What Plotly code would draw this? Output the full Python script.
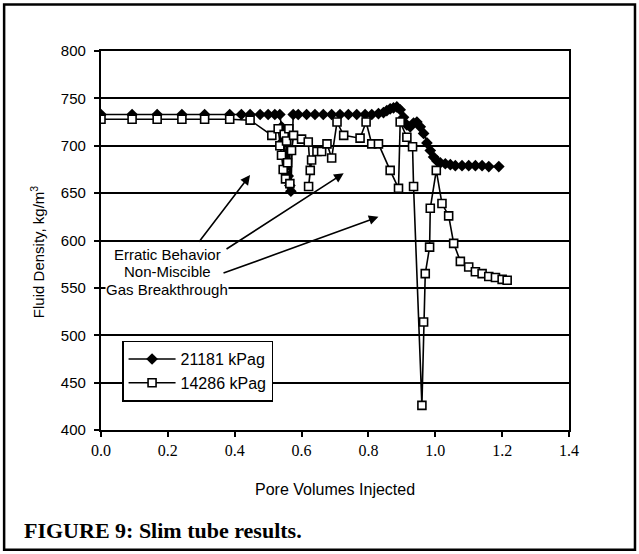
import plotly.graph_objects as go

# ---- data ----
x_21181 = [0.0, 0.093, 0.168, 0.242, 0.31, 0.385, 0.42, 0.446, 0.476, 0.50, 0.52, 0.535,
           0.54, 0.545, 0.55, 0.555, 0.56, 0.565, 0.568, 0.575, 0.59, 0.615, 0.64, 0.665,
           0.69, 0.715, 0.74, 0.765, 0.79, 0.81, 0.83, 0.845, 0.855, 0.865, 0.875, 0.885,
           0.895, 0.905, 0.915, 0.925, 0.935, 0.945, 0.955, 0.965, 0.975, 0.985, 0.995,
           1.005, 1.015, 1.03, 1.045, 1.06, 1.08, 1.10, 1.12, 1.14, 1.16, 1.19]
y_21181 = [733, 733, 733, 733, 733, 733, 733, 733, 733, 733, 733, 733,
           720, 705, 690, 678, 668, 658, 652, 733, 733, 733, 733, 733,
           733, 733, 733, 733, 733, 733, 734, 735, 737, 739, 740, 741,
           738, 730, 722, 720, 724, 725, 720, 713, 703, 695, 688,
           684, 682, 681, 680, 679, 679, 679, 679, 679, 678, 678]

x_14286 = [0.0, 0.093, 0.168, 0.242, 0.31, 0.385, 0.446, 0.511, 0.53, 0.535, 0.54, 0.545,
           0.548, 0.552, 0.555, 0.558, 0.562, 0.565, 0.57, 0.576, 0.60, 0.62, 0.626, 0.621,
           0.63, 0.646, 0.66, 0.676, 0.69, 0.706, 0.726, 0.775, 0.793, 0.81, 0.83, 0.865,
           0.89, 0.895, 0.915, 0.932, 0.935, 0.96, 0.965, 0.97, 0.983, 0.985, 1.003, 1.02,
           1.04, 1.055, 1.075, 1.10, 1.12, 1.14, 1.16, 1.18, 1.20, 1.215]
y_14286 = [728, 728, 728, 728, 728, 728, 727, 711, 718, 700, 690, 675,
           712, 665, 705, 682, 718, 660, 695, 711, 707, 704, 674, 657,
           685, 694, 694, 702, 687, 725, 711, 708, 725, 702, 702, 674,
           655, 725, 709, 699, 657, 426, 514, 565, 593, 634, 674, 639,
           626, 597, 578, 572, 567, 565, 562, 561, 559, 558]

x_ticks = [0.0, 0.2, 0.4, 0.6, 0.8, 1.0, 1.2, 1.4]
x_tick_labels = ["0.0", "0.2", "0.4", "0.6", "0.8", "1.0", "1.2", "1.4"]
y_ticks = [400, 450, 500, 550, 600, 650, 700, 750, 800]

series_names = ["21181 kPag", "14286 kPag"]
notes = ["Erratic Behavior", "Non-Miscible", "Gas Breakthrough"]

SANS = "Liberation Sans, Arial, sans-serif"
SERIF = "Liberation Serif, Times New Roman, serif"

fig = go.Figure()
fig.add_trace(go.Scatter(
    x=x_21181, y=y_21181, mode="lines+markers", name=series_names[0],
    line=dict(color="black", width=1.6),
    marker=dict(symbol="diamond", size=9, color="black")))
fig.add_trace(go.Scatter(
    x=x_14286, y=y_14286, mode="lines+markers", name=series_names[1],
    line=dict(color="black", width=1.6),
    marker=dict(symbol="square", size=8, color="white",
                line=dict(color="black", width=1.6))))

fig.update_layout(
    width=639, height=554,
    margin=dict(l=101, r=70, t=51, b=124),
    paper_bgcolor="white", plot_bgcolor="white",
    font=dict(family=SANS, color="black", size=15),
    showlegend=True,
    legend=dict(x=0.045, y=0.075, xanchor="left", yanchor="bottom",
                bordercolor="black", borderwidth=1.5, bgcolor="white",
                font=dict(family=SANS, size=16, color="black"),
                itemwidth=47, tracegroupgap=0),
)
fig.update_xaxes(range=[0, 1.4], tickvals=x_ticks, ticktext=x_tick_labels,
                 ticks="outside", ticklen=5, tickcolor="black", tickwidth=1.5,
                 showline=True, linecolor="black", linewidth=2.2, mirror=True,
                 showgrid=False, zeroline=False,
                 tickfont=dict(family=SERIF, size=16, color="black"))
fig.update_yaxes(range=[400, 800], tickvals=y_ticks,
                 ticks="outside", ticklen=5, tickcolor="black", tickwidth=1.5,
                 showline=True, linecolor="black", linewidth=2.2, mirror=True,
                 showgrid=True, gridcolor="black", gridwidth=1.8, zeroline=False,
                 ticklabelstandoff=5,
                 tickfont=dict(family=SANS, size=15, color="black"))

# outer frame
fig.add_shape(type="rect", xref="paper", yref="paper",
              x0=-0.207, x1=1.141, y0=-0.316, y1=1.123,
              line=dict(color="black", width=2.5), layer="below")

# axis titles
fig.add_annotation(xref="paper", yref="paper", x=0.5, y=-0.158,
                   text="Pore Volumes Injected", showarrow=False,
                   font=dict(family=SANS, size=16), xanchor="center", yanchor="middle")
fig.add_annotation(xref="paper", yref="paper", x=-0.137, y=0.469,
                   text="Fluid Density, kg/m<sup>3</sup>", textangle=-90, showarrow=False,
                   font=dict(family=SANS, size=15), xanchor="center", yanchor="middle")
# caption
fig.add_annotation(xref="paper", yref="paper", x=-0.169, y=-0.266,
                   text="<b>FIGURE 9: Slim tube results.</b>", showarrow=False,
                   font=dict(family=SERIF, size=22), xanchor="left", yanchor="middle")

# text notes (white boxes hide the gridline behind the text)
note_y = [585, 567, 548]
for txt, ny in zip(notes, note_y):
    fig.add_annotation(x=0.198, y=ny, text=txt, showarrow=False, bgcolor="white",
                       borderpad=0, font=dict(family=SANS, size=15))

# arrows (head, tail)
arrows = [((0.446, 669), (0.29, 597)),
          ((0.726, 671), (0.371, 590)),
          ((0.83, 625), (0.362, 565))]
for (hx, hy), (tx, ty) in arrows:
    fig.add_annotation(x=hx, y=hy, ax=tx, ay=ty, xref="x", yref="y",
                       axref="x", ayref="y", text="", showarrow=True,
                       arrowhead=2, arrowsize=1.2, arrowwidth=1.6, arrowcolor="black")

fig.write_html("out.html")
